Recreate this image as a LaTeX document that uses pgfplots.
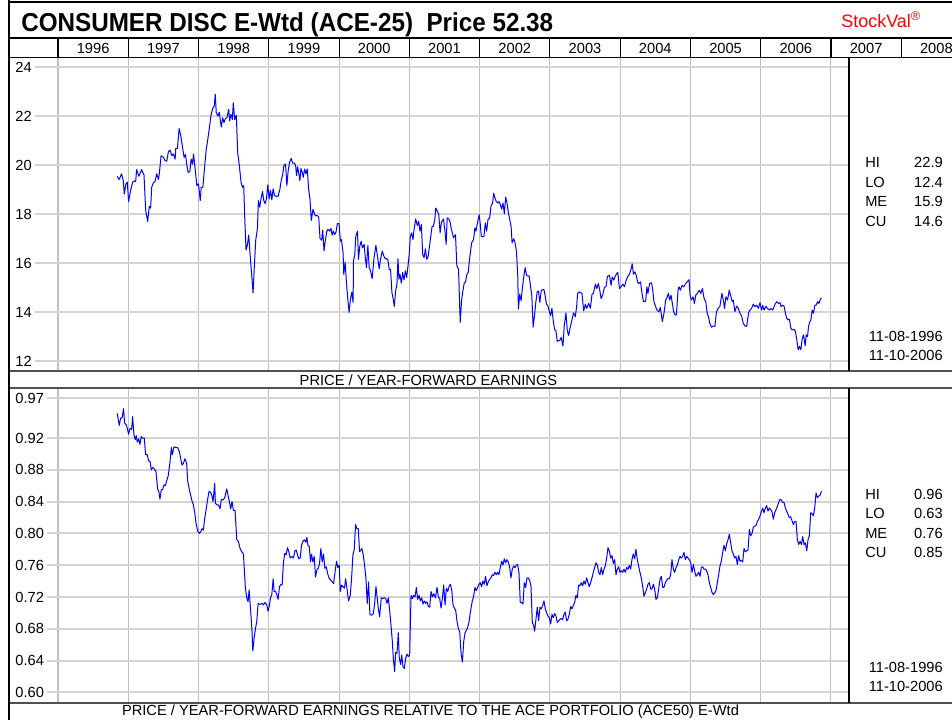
\documentclass[border=0pt]{standalone}
\usepackage{pgfplots}
\pgfplotsset{compat=1.18}
\usepackage{fontspec}
\setmainfont{Liberation Sans}
\usepackage{graphicx}
\definecolor{hgrid}{RGB}{212,212,212}
\definecolor{vgrid}{RGB}{192,192,192}
\definecolor{framegray}{RGB}{80,80,80}
\definecolor{lineblue}{RGB}{0,0,255}

\pgfplotstableread{
x y
1996.843 19.54
1996.871 19.41
1996.905 19.64
1996.929 19.36
1996.943 18.82
1996.967 19.23
1996.986 19.30
1997.005 18.51
1997.033 18.96
1997.062 19.30
1997.090 19.36
1997.105 19.32
1997.119 19.81
1997.152 19.54
1997.190 19.81
1997.224 19.59
1997.248 18.15
1997.276 17.70
1997.300 18.32
1997.319 18.24
1997.333 19.09
1997.357 19.27
1997.381 19.32
1997.405 19.64
1997.429 19.41
1997.443 19.68
1997.467 20.38
1997.500 20.31
1997.524 20.18
1997.548 20.16
1997.571 20.54
1997.595 20.61
1997.619 20.38
1997.643 20.45
1997.667 20.24
1997.676 20.68
1997.700 20.68
1997.724 21.49
1997.748 21.19
1997.776 20.65
1997.795 20.31
1997.814 20.43
1997.833 20.00
1997.852 19.70
1997.876 19.73
1997.895 20.24
1997.914 20.04
1997.929 20.45
1997.952 19.84
1997.976 19.16
1998.000 19.23
1998.024 18.55
1998.038 19.09
1998.062 19.09
1998.086 19.91
1998.110 20.65
1998.129 20.99
1998.152 21.46
1998.176 22.00
1998.200 22.30
1998.224 22.41
1998.238 22.88
1998.252 22.14
1998.276 22.00
1998.295 22.16
1998.310 21.82
1998.324 21.55
1998.343 21.93
1998.362 21.73
1998.381 21.89
1998.405 21.93
1998.429 22.27
1998.443 21.80
1998.462 22.07
1998.481 21.86
1998.495 22.54
1998.514 21.86
1998.538 22.03
1998.557 20.51
1998.581 19.97
1998.605 19.30
1998.624 19.09
1998.643 19.16
1998.657 17.88
1998.676 16.53
1998.695 16.73
1998.714 17.14
1998.738 16.19
1998.757 15.51
1998.776 14.77
1998.795 15.92
1998.814 16.93
1998.838 17.41
1998.852 18.55
1998.871 18.28
1998.890 18.62
1998.910 18.92
1998.929 18.55
1998.948 18.42
1998.967 18.62
1998.986 19.19
1999.005 18.62
1999.024 18.96
1999.043 18.58
1999.062 19.03
1999.081 18.76
1999.105 18.72
1999.133 18.73
1999.157 19.00
1999.176 19.36
1999.200 19.64
1999.214 19.97
1999.238 20.04
1999.257 19.16
1999.276 19.77
1999.295 20.11
1999.319 20.27
1999.338 20.08
1999.362 20.08
1999.381 20.00
1999.395 19.57
1999.410 19.93
1999.424 19.70
1999.443 19.36
1999.457 19.86
1999.476 19.70
1999.490 19.50
1999.510 19.84
1999.529 19.64
1999.548 19.84
1999.567 19.00
1999.586 18.62
1999.605 17.74
1999.629 18.19
1999.643 18.08
1999.662 17.92
1999.686 17.95
1999.710 17.88
1999.729 17.00
1999.752 16.93
1999.767 17.34
1999.786 16.49
1999.805 16.93
1999.824 17.27
1999.843 17.38
1999.867 17.30
1999.886 17.41
1999.900 17.14
1999.919 17.30
1999.938 17.16
1999.957 17.27
1999.976 17.61
2000.000 17.61
2000.019 16.89
2000.033 16.96
2000.057 16.42
2000.067 15.54
2000.086 16.04
2000.105 15.20
2000.124 14.53
2000.143 13.99
2000.162 14.53
2000.181 14.80
2000.200 14.39
2000.205 16.08
2000.224 16.35
2000.238 17.09
2000.262 17.30
2000.276 16.15
2000.295 16.69
2000.314 16.89
2000.333 16.62
2000.357 16.76
2000.371 16.28
2000.390 15.81
2000.410 16.72
2000.429 15.81
2000.448 15.68
2000.471 15.36
2000.495 16.15
2000.524 16.72
2000.543 16.35
2000.571 15.77
2000.590 16.15
2000.614 16.49
2000.638 16.28
2000.657 16.18
2000.676 16.18
2000.695 16.12
2000.714 15.74
2000.733 15.74
2000.752 14.80
2000.771 14.53
2000.786 14.23
2000.805 14.86
2000.824 15.14
2000.838 16.18
2000.852 15.34
2000.867 15.54
2000.886 15.18
2000.905 15.61
2000.924 15.31
2000.943 15.68
2000.962 15.41
2000.981 15.88
2001.000 16.42
2001.014 17.09
2001.033 17.23
2001.052 16.96
2001.067 17.36
2001.090 17.80
2001.114 17.53
2001.133 17.70
2001.152 17.30
2001.171 17.57
2001.190 16.35
2001.210 16.22
2001.229 16.58
2001.248 16.15
2001.267 16.26
2001.286 16.66
2001.305 17.09
2001.324 17.50
2001.343 17.50
2001.362 17.77
2001.376 18.24
2001.400 18.11
2001.419 17.97
2001.438 17.23
2001.457 17.66
2001.486 17.80
2001.505 17.36
2001.524 16.76
2001.538 17.84
2001.562 17.80
2001.581 17.66
2001.600 17.36
2001.629 17.03
2001.657 17.16
2001.676 15.88
2001.700 15.74
2001.724 13.58
2001.743 14.46
2001.762 14.86
2001.781 15.18
2001.800 15.23
2001.819 15.54
2001.838 15.61
2001.857 16.15
2001.886 16.82
2001.914 16.96
2001.933 17.43
2001.948 17.30
2001.971 17.66
2001.995 17.97
2002.010 17.57
2002.024 17.09
2002.043 17.07
2002.062 17.09
2002.081 17.64
2002.100 17.30
2002.119 17.77
2002.143 17.84
2002.162 18.31
2002.186 18.47
2002.200 18.85
2002.219 18.65
2002.238 18.51
2002.257 18.45
2002.276 18.51
2002.295 18.38
2002.314 18.20
2002.333 18.45
2002.352 18.01
2002.371 18.69
2002.390 18.45
2002.410 18.04
2002.429 17.77
2002.448 17.50
2002.462 16.82
2002.486 16.99
2002.505 16.82
2002.524 16.49
2002.543 15.47
2002.552 14.12
2002.571 14.73
2002.590 14.46
2002.610 15.00
2002.629 15.45
2002.648 15.81
2002.667 15.50
2002.686 15.47
2002.705 15.47
2002.724 15.07
2002.743 14.66
2002.762 13.38
2002.781 13.85
2002.800 14.39
2002.819 14.82
2002.838 14.86
2002.857 14.39
2002.876 14.86
2002.895 14.91
2002.914 14.93
2002.933 14.66
2002.952 14.32
2002.971 14.26
2002.990 14.05
2003.010 13.85
2003.029 14.15
2003.048 13.65
2003.067 13.28
2003.086 13.24
2003.105 12.80
2003.124 12.84
2003.143 12.84
2003.162 12.97
2003.186 12.61
2003.205 13.45
2003.229 13.96
2003.248 13.24
2003.267 13.04
2003.286 13.34
2003.314 13.68
2003.338 13.97
2003.362 13.81
2003.381 14.22
2003.395 14.76
2003.419 14.82
2003.457 14.76
2003.481 14.05
2003.505 14.32
2003.524 14.15
2003.552 14.35
2003.576 14.15
2003.600 14.73
2003.619 14.76
2003.648 15.14
2003.667 14.96
2003.690 15.16
2003.710 14.89
2003.729 14.55
2003.752 14.69
2003.776 15.00
2003.800 15.05
2003.819 15.46
2003.848 15.50
2003.871 15.09
2003.886 15.43
2003.910 15.30
2003.929 15.46
2003.952 15.57
2003.967 15.61
2003.990 14.96
2004.014 15.03
2004.038 15.14
2004.062 15.03
2004.086 15.30
2004.110 15.46
2004.133 15.54
2004.157 15.77
2004.171 15.97
2004.190 15.54
2004.210 15.64
2004.229 15.50
2004.248 15.23
2004.267 15.16
2004.290 15.23
2004.314 14.69
2004.333 14.42
2004.362 14.42
2004.381 15.03
2004.395 14.76
2004.419 15.16
2004.448 15.19
2004.467 14.82
2004.481 14.42
2004.505 14.22
2004.524 14.08
2004.552 14.01
2004.571 14.19
2004.600 13.61
2004.624 13.95
2004.648 14.49
2004.667 14.59
2004.686 14.76
2004.705 14.49
2004.724 14.69
2004.743 14.35
2004.762 14.01
2004.781 13.88
2004.800 13.88
2004.824 14.89
2004.838 15.03
2004.857 14.89
2004.881 15.09
2004.905 15.03
2004.933 15.16
2004.981 15.32
2004.995 14.69
2005.014 14.49
2005.038 14.62
2005.057 14.35
2005.076 14.69
2005.100 14.76
2005.124 14.89
2005.148 14.76
2005.171 14.96
2005.195 14.55
2005.219 14.42
2005.238 13.95
2005.257 13.81
2005.276 13.54
2005.300 13.38
2005.324 13.43
2005.348 13.41
2005.371 14.01
2005.395 14.15
2005.419 14.22
2005.448 14.76
2005.467 14.51
2005.486 14.15
2005.505 14.62
2005.529 14.49
2005.552 14.89
2005.571 14.69
2005.595 14.42
2005.610 14.49
2005.633 14.01
2005.657 14.24
2005.681 14.15
2005.705 13.95
2005.729 13.84
2005.752 13.54
2005.776 13.43
2005.800 13.41
2005.829 13.97
2005.848 14.08
2005.871 14.15
2005.895 14.32
2005.919 14.22
2005.943 14.28
2005.967 14.15
2005.990 14.38
2006.014 14.08
2006.029 14.27
2006.048 14.08
2006.076 14.24
2006.095 14.15
2006.124 14.08
2006.143 14.15
2006.171 14.08
2006.205 14.32
2006.229 14.42
2006.252 14.35
2006.276 14.38
2006.290 14.22
2006.310 14.28
2006.333 14.24
2006.352 13.95
2006.371 13.74
2006.390 13.68
2006.410 13.70
2006.429 13.34
2006.448 13.27
2006.476 13.30
2006.495 13.20
2006.514 12.86
2006.533 12.46
2006.552 12.59
2006.571 12.46
2006.590 12.89
2006.610 13.07
2006.633 12.62
2006.648 13.07
2006.667 13.00
2006.681 13.41
2006.695 13.57
2006.714 13.68
2006.733 14.08
2006.752 13.95
2006.771 14.28
2006.790 14.28
2006.810 14.42
2006.829 14.35
2006.848 14.51
2006.864 14.58
}\toptable

\pgfplotstableread{
x y
1996.843 0.951
1996.872 0.936
1996.891 0.945
1996.914 0.946
1996.933 0.957
1996.948 0.939
1996.976 0.936
1997.005 0.925
1997.024 0.932
1997.048 0.931
1997.062 0.947
1997.081 0.924
1997.100 0.918
1997.114 0.923
1997.128 0.915
1997.147 0.919
1997.166 0.912
1997.185 0.922
1997.204 0.920
1997.228 0.920
1997.247 0.899
1997.271 0.899
1997.290 0.891
1997.309 0.891
1997.328 0.880
1997.347 0.883
1997.371 0.881
1997.394 0.878
1997.418 0.856
1997.437 0.852
1997.451 0.843
1997.470 0.855
1997.489 0.855
1997.508 0.861
1997.527 0.860
1997.546 0.866
1997.570 0.873
1997.594 0.890
1997.613 0.908
1997.627 0.899
1997.651 0.909
1997.675 0.908
1997.703 0.908
1997.727 0.903
1997.751 0.892
1997.765 0.886
1997.784 0.888
1997.808 0.894
1997.831 0.888
1997.846 0.866
1997.869 0.855
1997.888 0.848
1997.907 0.841
1997.926 0.836
1997.945 0.827
1997.964 0.813
1997.988 0.803
1998.012 0.800
1998.031 0.802
1998.050 0.806
1998.069 0.804
1998.088 0.819
1998.107 0.829
1998.126 0.841
1998.150 0.853
1998.169 0.852
1998.188 0.848
1998.207 0.840
1998.230 0.863
1998.240 0.838
1998.259 0.836
1998.283 0.836
1998.306 0.831
1998.325 0.843
1998.349 0.842
1998.373 0.845
1998.401 0.856
1998.420 0.848
1998.439 0.840
1998.458 0.831
1998.477 0.840
1998.496 0.829
1998.520 0.829
1998.544 0.792
1998.567 0.790
1998.591 0.781
1998.615 0.777
1998.639 0.774
1998.653 0.752
1998.667 0.731
1998.686 0.719
1998.705 0.714
1998.720 0.729
1998.743 0.701
1998.762 0.676
1998.772 0.652
1998.791 0.668
1998.810 0.680
1998.829 0.689
1998.848 0.712
1998.867 0.711
1998.886 0.711
1998.905 0.712
1998.924 0.710
1998.948 0.713
1998.971 0.710
1998.990 0.702
1999.010 0.710
1999.024 0.719
1999.043 0.723
1999.062 0.743
1999.076 0.727
1999.095 0.727
1999.114 0.723
1999.133 0.717
1999.152 0.733
1999.176 0.736
1999.190 0.735
1999.209 0.764
1999.228 0.775
1999.247 0.773
1999.266 0.782
1999.285 0.777
1999.304 0.769
1999.328 0.771
1999.352 0.769
1999.371 0.778
1999.390 0.779
1999.409 0.773
1999.428 0.768
1999.447 0.769
1999.466 0.785
1999.485 0.790
1999.504 0.792
1999.527 0.789
1999.542 0.795
1999.556 0.785
1999.575 0.784
1999.594 0.764
1999.608 0.774
1999.627 0.764
1999.646 0.771
1999.665 0.745
1999.684 0.754
1999.703 0.756
1999.722 0.762
1999.741 0.781
1999.760 0.764
1999.779 0.774
1999.798 0.756
1999.817 0.758
1999.836 0.750
1999.860 0.743
1999.884 0.741
1999.903 0.739
1999.922 0.737
1999.950 0.756
1999.964 0.765
1999.983 0.757
2000.002 0.760
2000.017 0.727
2000.036 0.735
2000.055 0.733
2000.078 0.731
2000.093 0.743
2000.112 0.731
2000.135 0.715
2000.159 0.722
2000.178 0.743
2000.197 0.773
2000.216 0.780
2000.235 0.811
2000.254 0.806
2000.273 0.806
2000.292 0.777
2000.311 0.779
2000.325 0.781
2000.344 0.773
2000.363 0.760
2000.382 0.744
2000.401 0.712
2000.420 0.739
2000.439 0.698
2000.463 0.697
2000.487 0.699
2000.506 0.711
2000.525 0.733
2000.539 0.722
2000.558 0.706
2000.577 0.695
2000.601 0.719
2000.620 0.718
2000.644 0.719
2000.663 0.718
2000.682 0.712
2000.701 0.719
2000.720 0.703
2000.739 0.685
2000.758 0.664
2000.772 0.643
2000.791 0.626
2000.805 0.650
2000.824 0.649
2000.843 0.675
2000.857 0.643
2000.876 0.635
2000.891 0.647
2000.910 0.632
2000.929 0.630
2000.948 0.643
2000.967 0.648
2000.986 0.645
2001.005 0.647
2001.024 0.722
2001.043 0.718
2001.062 0.722
2001.081 0.720
2001.100 0.732
2001.119 0.717
2001.138 0.722
2001.157 0.715
2001.176 0.719
2001.195 0.711
2001.214 0.715
2001.233 0.712
2001.252 0.714
2001.271 0.708
2001.290 0.707
2001.309 0.727
2001.328 0.720
2001.347 0.724
2001.371 0.719
2001.394 0.732
2001.413 0.720
2001.432 0.718
2001.451 0.706
2001.470 0.718
2001.489 0.735
2001.508 0.710
2001.527 0.731
2001.546 0.727
2001.565 0.733
2001.584 0.736
2001.603 0.729
2001.622 0.710
2001.641 0.706
2001.660 0.703
2001.679 0.689
2001.698 0.680
2001.717 0.676
2001.736 0.649
2001.755 0.638
2001.774 0.664
2001.793 0.675
2001.812 0.678
2001.831 0.682
2001.850 0.689
2001.869 0.701
2001.896 0.715
2001.915 0.721
2001.934 0.732
2001.953 0.728
2001.972 0.732
2001.991 0.736
2002.009 0.738
2002.028 0.733
2002.047 0.740
2002.066 0.736
2002.085 0.746
2002.104 0.734
2002.123 0.739
2002.142 0.742
2002.161 0.744
2002.180 0.748
2002.199 0.747
2002.218 0.751
2002.237 0.748
2002.256 0.751
2002.275 0.748
2002.294 0.757
2002.313 0.765
2002.332 0.760
2002.351 0.768
2002.370 0.763
2002.389 0.767
2002.408 0.764
2002.427 0.758
2002.446 0.744
2002.465 0.755
2002.484 0.759
2002.503 0.757
2002.522 0.760
2002.541 0.761
2002.560 0.751
2002.579 0.713
2002.598 0.713
2002.617 0.711
2002.636 0.738
2002.655 0.732
2002.674 0.744
2002.693 0.744
2002.712 0.741
2002.731 0.734
2002.750 0.688
2002.769 0.684
2002.783 0.677
2002.802 0.692
2002.821 0.707
2002.840 0.690
2002.859 0.707
2002.878 0.705
2002.897 0.709
2002.916 0.715
2002.935 0.705
2002.954 0.700
2002.973 0.696
2002.992 0.694
2003.011 0.686
2003.030 0.698
2003.049 0.694
2003.068 0.699
2003.087 0.696
2003.106 0.688
2003.125 0.690
2003.144 0.692
2003.163 0.693
2003.181 0.691
2003.200 0.698
2003.219 0.701
2003.238 0.690
2003.257 0.692
2003.276 0.698
2003.295 0.708
2003.314 0.705
2003.333 0.709
2003.352 0.713
2003.371 0.722
2003.390 0.719
2003.409 0.735
2003.428 0.734
2003.447 0.738
2003.466 0.734
2003.485 0.740
2003.504 0.736
2003.523 0.744
2003.542 0.738
2003.561 0.733
2003.580 0.738
2003.599 0.744
2003.618 0.751
2003.637 0.757
2003.656 0.763
2003.675 0.760
2003.694 0.751
2003.713 0.748
2003.732 0.757
2003.751 0.748
2003.770 0.755
2003.789 0.759
2003.808 0.769
2003.827 0.782
2003.846 0.778
2003.865 0.769
2003.884 0.772
2003.903 0.762
2003.922 0.767
2003.941 0.748
2003.960 0.755
2003.979 0.758
2003.998 0.751
2004.017 0.753
2004.036 0.751
2004.055 0.755
2004.074 0.751
2004.093 0.757
2004.112 0.755
2004.131 0.760
2004.150 0.755
2004.168 0.767
2004.187 0.774
2004.206 0.768
2004.225 0.780
2004.244 0.767
2004.263 0.759
2004.282 0.751
2004.301 0.744
2004.320 0.734
2004.339 0.721
2004.358 0.725
2004.377 0.730
2004.396 0.736
2004.415 0.738
2004.434 0.730
2004.453 0.730
2004.472 0.736
2004.491 0.730
2004.510 0.717
2004.529 0.719
2004.548 0.730
2004.567 0.742
2004.586 0.746
2004.605 0.732
2004.624 0.732
2004.643 0.738
2004.662 0.741
2004.681 0.743
2004.700 0.743
2004.719 0.748
2004.738 0.767
2004.757 0.755
2004.776 0.751
2004.795 0.757
2004.814 0.760
2004.833 0.767
2004.852 0.771
2004.871 0.769
2004.890 0.771
2004.909 0.776
2004.928 0.767
2004.947 0.771
2004.966 0.769
2004.985 0.767
2005.004 0.763
2005.023 0.751
2005.042 0.761
2005.060 0.753
2005.079 0.746
2005.098 0.748
2005.117 0.751
2005.136 0.746
2005.155 0.757
2005.174 0.758
2005.193 0.755
2005.212 0.755
2005.231 0.753
2005.250 0.748
2005.269 0.738
2005.288 0.732
2005.307 0.726
2005.326 0.723
2005.345 0.725
2005.364 0.728
2005.383 0.738
2005.402 0.748
2005.421 0.759
2005.440 0.765
2005.459 0.776
2005.478 0.785
2005.497 0.778
2005.516 0.787
2005.535 0.792
2005.554 0.799
2005.573 0.788
2005.592 0.778
2005.611 0.774
2005.630 0.769
2005.649 0.771
2005.668 0.761
2005.687 0.772
2005.706 0.765
2005.725 0.766
2005.744 0.764
2005.763 0.781
2005.782 0.777
2005.801 0.778
2005.820 0.779
2005.839 0.805
2005.858 0.797
2005.877 0.800
2005.896 0.808
2005.915 0.809
2005.934 0.810
2005.953 0.815
2005.972 0.818
2005.991 0.822
2006.009 0.827
2006.028 0.832
2006.047 0.826
2006.066 0.832
2006.085 0.835
2006.104 0.828
2006.123 0.832
2006.142 0.830
2006.161 0.827
2006.180 0.818
2006.199 0.826
2006.218 0.830
2006.237 0.834
2006.256 0.839
2006.275 0.843
2006.294 0.842
2006.313 0.839
2006.332 0.839
2006.351 0.832
2006.370 0.828
2006.389 0.824
2006.408 0.820
2006.427 0.821
2006.446 0.816
2006.465 0.811
2006.484 0.815
2006.503 0.815
2006.522 0.792
2006.541 0.786
2006.560 0.790
2006.579 0.786
2006.598 0.796
2006.617 0.786
2006.636 0.788
2006.655 0.778
2006.674 0.792
2006.693 0.797
2006.712 0.826
2006.731 0.825
2006.750 0.822
2006.769 0.832
2006.788 0.851
2006.807 0.845
2006.826 0.847
2006.845 0.848
2006.864 0.853
}\bottable

\pgfplotsset{
  panel/.style={
    scale only axis, width=629.25pt, anchor=north west,
    xmin=1995.317, xmax=2007.257,
    axis line style={draw=none}, tick style={draw=none},
    major tick length=0pt,
    xtick=\empty,
    yticklabel style={anchor=west, inner sep=0pt, xshift=3.9pt, font=\fontsize{11}{12}\selectfont},
  }
}

\begin{document}
\begin{tikzpicture}
\path[use as bounding box] (0,0) rectangle (714pt,-539.25pt);

% ---------- top panel ----------
\begin{axis}[panel, at={(7.5pt,-42.75pt)}, height=235.5pt,
  ymin=11.592, ymax=24.408,
  ytick={12,14,16,18,20,22,24},
  yticklabels={12,14,16,18,20,22,24}]
  \pgfplotsinvokeforeach{1996,1997,1998,1999,2000,2001,2002,2003,2004,2005,2006,2007}{
    \draw[vgrid, line width=0.8pt] (axis cs:#1,11.592) -- (axis cs:#1,24.408);}
  \pgfplotsinvokeforeach{12,14,16,18,20,22,24}{
    \draw[hgrid, line width=1.5pt] (axis cs:1995.673,#1) -- (axis cs:2007.257,#1);}
  \addplot[lineblue, line width=0.75pt, line join=round] table[x=x,y=y] {\toptable};
\end{axis}

% ---------- bottom panel ----------
\begin{axis}[panel, at={(7.5pt,-291pt)}, height=236.25pt,
  ymin=0.5865, ymax=0.983,
  ytick={0.60,0.64,0.68,0.72,0.76,0.80,0.84,0.88,0.92,0.97},
  yticklabels={0.60,0.64,0.68,0.72,0.76,0.80,0.84,0.88,0.92,0.97}]
  \pgfplotsinvokeforeach{1996,1997,1998,1999,2000,2001,2002,2003,2004,2005,2006,2007}{
    \draw[vgrid, line width=0.8pt] (axis cs:#1,0.5865) -- (axis cs:#1,0.983);}
  \pgfplotsinvokeforeach{0.60,0.64,0.68,0.72,0.76,0.80,0.84,0.88,0.92,0.97}{
    \draw[hgrid, line width=1.5pt] (axis cs:1995.843,#1) -- (axis cs:2007.257,#1);}
  \addplot[lineblue, line width=0.75pt, line join=round] table[x=x,y=y] {\bottable};
\end{axis}

% ---------- frame, header and text (pixel coordinates) ----------
\begin{scope}[x=0.75pt, y=-0.75pt, every node/.style={inner sep=0pt, font=\fontsize{11}{13}\selectfont}]
  % outer frame
  \draw[black, line width=2.2pt] (9,2) -- (960,2);
  \draw[black, line width=2.2pt] (9,0) -- (9,725);
  \draw[black, line width=1.2pt] (10,38) -- (960,38);
  \draw[black, line width=0.9pt] (10,57.5) -- (960,57.5);
  % year row separators
  \foreach \k in {0,...,13}{
    \draw[black, line width=0.8pt] ({58+70.27*\k},38) -- ({58+70.27*\k},57.5);}
  \foreach \k/\yr in {0/1996,1/1997,2/1998,3/1999,4/2000,5/2001,6/2002,7/2003,8/2004,9/2005,10/2006,11/2007,12/2008}{
    \node at ({58+70.27*(\k+0.5)},48.5) {\yr};}
  % panel separators
  \draw[framegray, line width=1.5pt] (10,371) -- (960,371);
  \draw[framegray, line width=1.5pt] (10,388) -- (960,388);
  \draw[framegray, line width=1.5pt] (10,703) -- (960,703);
  \draw[black, line width=1.1pt] (849,57.5) -- (849,371);
  \draw[black, line width=1.1pt] (849,388) -- (849,703);
  % title
  \node[anchor=base west] at (21,31.5) {\resizebox{399pt}{\height}{\fontsize{19.5}{21}\selectfont\bfseries CONSUMER DISC E-Wtd (ACE-25)\ \ Price 52.38}};
  \node[anchor=base west, text=red] at (841,27) {\fontsize{13.5}{15}\selectfont StockVal\raisebox{0.38em}{\fontsize{9.5}{10}\selectfont ®}};
  % panel captions
  \node at (428.5,380) {PRICE / YEAR-FORWARD EARNINGS};
  \node at (430.5,712) {PRICE / YEAR-FORWARD EARNINGS RELATIVE TO THE ACE PORTFOLIO (ACE50) E-Wtd};
  % stats top
  \node[anchor=west] at (865,162) {HI};  \node[anchor=east] at (943,162) {22.9};
  \node[anchor=west] at (865,182) {LO};  \node[anchor=east] at (943,182) {12.4};
  \node[anchor=west] at (865,201) {ME};  \node[anchor=east] at (943,201) {15.9};
  \node[anchor=west] at (865,221) {CU};  \node[anchor=east] at (943,221) {14.6};
  \node[anchor=east] at (943,336) {11-08-1996};
  \node[anchor=east] at (943,355) {11-10-2006};
  % stats bottom
  \node[anchor=west] at (865,494) {HI};  \node[anchor=east] at (943,494) {0.96};
  \node[anchor=west] at (865,513) {LO};  \node[anchor=east] at (943,513) {0.63};
  \node[anchor=west] at (865,533) {ME};  \node[anchor=east] at (943,533) {0.76};
  \node[anchor=west] at (865,552) {CU};  \node[anchor=east] at (943,552) {0.85};
  \node[anchor=east] at (943,667) {11-08-1996};
  \node[anchor=east] at (943,686) {11-10-2006};
\end{scope}
\end{tikzpicture}
\end{document}
